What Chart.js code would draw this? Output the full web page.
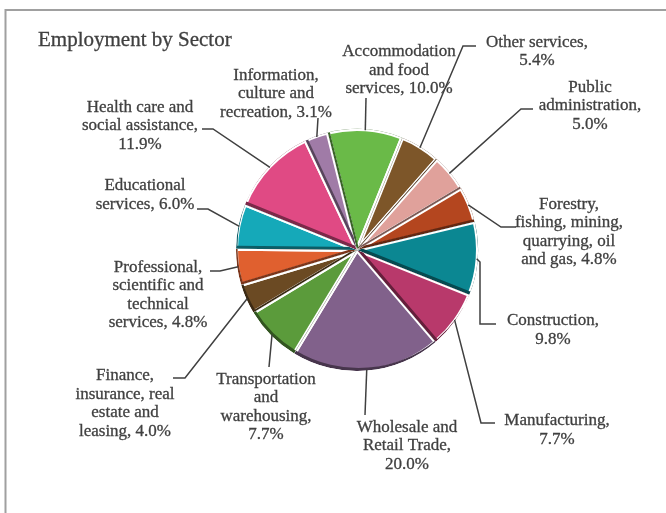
<!DOCTYPE html>
<html>
<head>
<meta charset="utf-8">
<script src="https://cdn.jsdelivr.net/npm/chart.js@4.4.1/dist/chart.umd.min.js"></script>
<style>
  html, body { margin: 0; padding: 0; background: #fff; }
</style>
</head>
<body>
<canvas id="sector-chart" width="666" height="513"></canvas>
<script>
const CTX = document.getElementById('sector-chart');

// data, clockwise from the top
const sectors = [
  'Accommodation and food services',
  'Other services',
  'Public administration',
  'Forestry, fishing, mining, quarrying, oil and gas',
  'Construction',
  'Manufacturing',
  'Wholesale and Retail Trade',
  'Transportation and warehousing',
  'Finance, insurance, real estate and leasing',
  'Professional, scientific and technical services',
  'Educational services',
  'Health care and social assistance',
  'Information, culture and recreation'
];
const shares = [10.0, 5.4, 5.0, 4.8, 9.8, 7.7, 20.0, 7.7, 4.0, 4.8, 6.0, 11.9, 3.1];
const sliceColors = [
  '#6aba48', '#7d5629', '#e0a19b', '#b4461f', '#0b8792', '#b8396b',
  '#81618b', '#5b9b3b', '#6b4a23', '#e0602f', '#15a9b9', '#e04a84', '#a07ba7'
];
// wrapped label text, {v} is replaced by the share
const labelLines = [
  ['Accommodation', 'and food', 'services, {v}'],
  ['Other services,', '{v}'],
  ['Public', 'administration,', '{v}'],
  ['Forestry,', 'fishing, mining,', 'quarrying, oil', 'and gas, {v}'],
  ['Construction,', '{v}'],
  ['Manufacturing,', '{v}'],
  ['Wholesale and', 'Retail Trade,', '{v}'],
  ['Transportation', 'and', 'warehousing,', '{v}'],
  ['Finance,', 'insurance, real', 'estate and', 'leasing, {v}'],
  ['Professional,', 'scientific and', 'technical', 'services, {v}'],
  ['Educational', 'services, {v}'],
  ['Health care and', 'social assistance,', '{v}'],
  ['Information,', 'culture and', 'recreation, {v}']
];

// label placement: centre x / first baseline, and leader points going out from the slice
const labelAt = [
  [399, 56], [537, 46.5], [590, 91.5], [569, 208.5], [553, 325], [557, 425],
  [407, 431.5], [266, 383.5], [125, 380], [158, 271.5], [145, 190], [140, 111.5], [276, 79.5]
];
const leaderTo = [
  [[366, 98]],
  [[463, 46], [476, 46]],
  [[521, 109], [533, 109]],
  [[501, 227], [516, 227]],
  [[480, 262], [480, 324], [496, 324]],
  [[481, 423], [495, 423]],
  [[365, 415]],
  [[269, 367]],
  [[185, 378], [173, 378]],
  [[220, 271], [210, 271]],
  [[208, 209], [197, 209]],
  [[213, 129], [202, 129]],
  [[318, 118]]
];

const INK = '#404040';
const FONT = "17px 'Liberation Serif', serif";

function darken(hex, f) {
  const n = parseInt(hex.slice(1), 16);
  const r = Math.round(((n >> 16) & 255) * f);
  const g = Math.round(((n >> 8) & 255) * f);
  const b = Math.round((n & 255) * f);
  return 'rgb(' + r + ',' + g + ',' + b + ')';
}

function sectorPath(ctx, p, dx, dy) {
  ctx.moveTo(p.x + dx, p.y + dy);
  ctx.arc(p.x + dx, p.y + dy, p.outerRadius, p.startAngle, p.endAngle);
  ctx.closePath();
}

// slightly heavier text, closer to the original face
function heavyText(ctx, s, x, y) {
  ctx.fillText(s, x, y);
  ctx.strokeText(s, x, y);
}

const decorations = {
  id: 'decorations',
  beforeDraw(chart) {
    const ctx = chart.ctx;
    ctx.save();
    ctx.strokeStyle = '#a0a0a0';
    ctx.lineWidth = 2;
    ctx.strokeRect(5.5, 10, 700, 600);
    ctx.fillStyle = INK;
    ctx.strokeStyle = INK;
    ctx.lineWidth = 0.3;
    ctx.font = "21px 'Liberation Serif', serif";
    ctx.textAlign = 'left';
    heavyText(ctx, 'Employment by Sector', 38, 45.5);
    ctx.restore();
  },
  afterDatasetsDraw(chart) {
    const ctx = chart.ctx;
    const arcs = chart.getDatasetMeta(0).data;
    // darker rim on the lower edges of each slice
    arcs.forEach((arc, i) => {
      const p = arc.getProps(['x', 'y', 'startAngle', 'endAngle', 'outerRadius'], true);
      ctx.save();
      ctx.beginPath();
      sectorPath(ctx, p, 0, 0);
      ctx.clip();
      ctx.beginPath();
      sectorPath(ctx, p, 0, 0);
      sectorPath(ctx, p, 1.5, -3);
      ctx.fillStyle = darken(sliceColors[i], 0.55);
      ctx.fill('evenodd');
      ctx.restore();
    });
    // leaders and labels
    ctx.save();
    ctx.strokeStyle = INK;
    ctx.fillStyle = INK;
    ctx.font = FONT;
    ctx.textAlign = 'center';
    arcs.forEach((arc, i) => {
      const p = arc.getProps(['x', 'y', 'startAngle', 'endAngle', 'outerRadius'], true);
      const mid = (p.startAngle + p.endAngle) / 2;
      const r = p.outerRadius - 1;
      ctx.lineWidth = 1.5;
      ctx.beginPath();
      ctx.moveTo(p.x + Math.cos(mid) * r, p.y + Math.sin(mid) * r);
      leaderTo[i].forEach(pt => ctx.lineTo(pt[0], pt[1]));
      ctx.stroke();
      ctx.lineWidth = 0.3;
      const v = shares[i].toFixed(1) + '%';
      labelLines[i].forEach((line, k) => {
        heavyText(ctx, line.replace('{v}', v), labelAt[i][0], labelAt[i][1] + k * 18.5);
      });
    });
    ctx.restore();
  }
};

new Chart(CTX, {
  type: 'pie',
  data: {
    labels: sectors,
    datasets: [{
      data: shares,
      backgroundColor: sliceColors,
      borderColor: '#ffffff',
      borderWidth: 4,
      radius: 121
    }]
  },
  options: {
    responsive: false,
    animation: false,
    rotation: -14,
    layout: { padding: { left: 100, right: 52, top: 60, bottom: 73 } },
    plugins: {
      legend: { display: false },
      tooltip: { enabled: false }
    }
  },
  plugins: [decorations]
});
</script>
</body>
</html>
